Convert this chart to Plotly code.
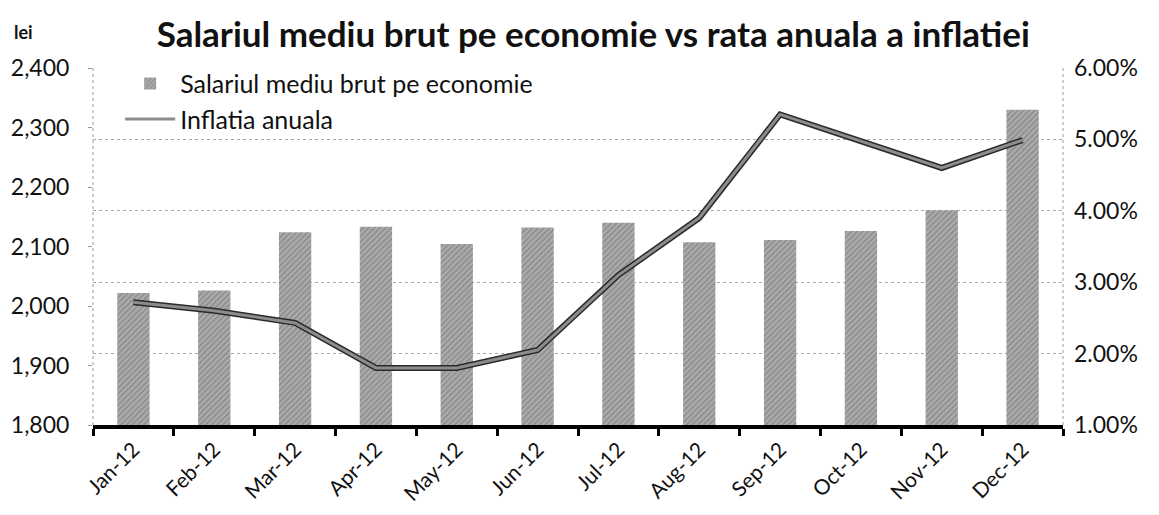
import plotly.graph_objects as go

months = ["Jan-12", "Feb-12", "Mar-12", "Apr-12", "May-12", "Jun-12",
          "Jul-12", "Aug-12", "Sep-12", "Oct-12", "Nov-12", "Dec-12"]
salariul = [2022, 2026, 2124, 2133, 2104, 2132, 2140, 2107, 2111, 2126, 2161, 2330]
inflatia = [2.72, 2.60, 2.43, 1.80, 1.80, 2.05, 3.10, 3.90, 5.35, 4.97, 4.60, 4.99]

left_ticks = [1800, 1900, 2000, 2100, 2200, 2300, 2400]
right_ticks = [1, 2, 3, 4, 5, 6]

FONT = "Lato"

fig = go.Figure()
fig.add_trace(go.Bar(
    x=months, y=salariul, name="Salariul mediu brut pe economie",
    marker=dict(color="#9c9c9c", line=dict(width=0),
                pattern=dict(shape="/", fgcolor="#666666", bgcolor="#ababab",
                             size=4, solidity=0.35)),
    yaxis="y",
))
fig.add_trace(go.Scatter(
    x=months, y=inflatia, mode="lines", showlegend=False, hoverinfo="skip",
    line=dict(color="#2a2a2a", width=6), yaxis="y2",
))
fig.add_trace(go.Scatter(
    x=months, y=inflatia, mode="lines", name="Inflatia anuala",
    line=dict(color="#8c8c8c", width=3), yaxis="y2",
))

fig.update_layout(
    width=1159, height=515,
    margin=dict(l=85, r=104, t=60, b=98),
    paper_bgcolor="white", plot_bgcolor="white",
    font=dict(family=FONT, color="#111"),
    bargap=0.6,
    title=dict(text="<b>Salariul mediu brut pe economie vs rata anuala a inflatiei</b>",
               x=0.505, xanchor="center", y=0.948, yanchor="middle",
               font=dict(size=35, family=FONT, color="#111")),
    showlegend=True,
    legend=dict(x=0.028, y=1.02, xanchor="left", yanchor="top",
                bgcolor="rgba(255,255,255,0)", font=dict(size=25, family=FONT),
                itemwidth=50),
    xaxis=dict(
        type="category", tickangle=-45, tickfont=dict(size=21),
        showline=True, linecolor="#000", linewidth=4,
        ticks="outside", tickson="boundaries", ticklen=7, tickwidth=3,
        tickcolor="#000", showgrid=False, automargin=False,
    ),
    yaxis=dict(
        range=[1800, 2400], tickvals=left_ticks, tickformat=",",
        tickfont=dict(size=23), showgrid=False, zeroline=False,
        ticks="outside", ticklen=4, tickcolor="#999", ticklabelstandoff=14,
        automargin=False,
    ),
    yaxis2=dict(
        range=[1, 6], tickvals=right_ticks,
        ticktext=[f"{v:.2f}%" for v in right_ticks],
        overlaying="y", side="right", tickfont=dict(size=23),
        showgrid=True, gridcolor="#a8a8a8", griddash="dot", gridwidth=1,
        zeroline=False, ticks="", ticklabelstandoff=10, automargin=False,
    ),
    shapes=[
        dict(type="line", xref="paper", yref="paper", x0=0, x1=0, y0=0, y1=1,
             line=dict(color="#9a9a9a", width=1, dash="dot")),
        dict(type="line", xref="paper", yref="paper", x0=1, x1=1, y0=0, y1=1,
             line=dict(color="#9a9a9a", width=1, dash="dot")),
    ],
    annotations=[
        dict(text="<b>lei</b>", xref="paper", yref="paper", x=-0.072, y=1.1,
             xanchor="center", yanchor="middle", showarrow=False,
             font=dict(size=18, family=FONT, color="#111")),
    ],
)

fig.write_html("out.html")
